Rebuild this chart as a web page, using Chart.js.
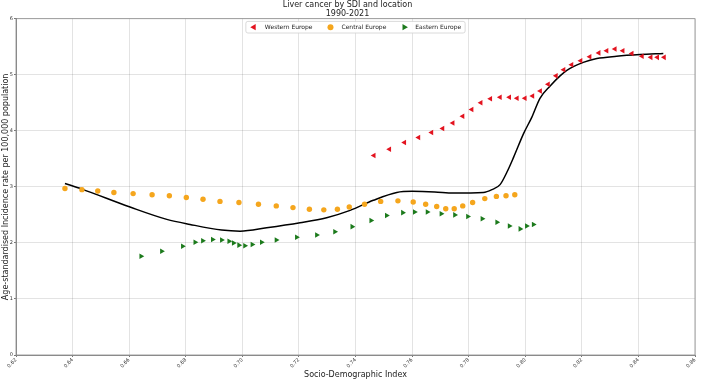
<!DOCTYPE html>
<html>
<head>
<meta charset="utf-8">
<script src="https://cdn.jsdelivr.net/npm/chart.js@4/dist/chart.umd.min.js"></script>
<style>
  html, body { margin: 0; padding: 0; background: #fff; }
  #wrap { width: 701px; height: 381px; position: relative; }
</style>
</head>
<body>
<div id="wrap"><canvas id="sdiChart"></canvas></div>
<script>
// Socio-Demographic Index (x) and age-standardised incidence rate (y), 1990-2021
const westernSdi = [0.7465, 0.7520, 0.7573, 0.7623, 0.7669, 0.7708, 0.7744, 0.7779, 0.7811, 0.7843, 0.7877, 0.7911, 0.7944, 0.7971, 0.7999, 0.8026,
  0.8053, 0.8081, 0.8109, 0.8136, 0.8164, 0.8196, 0.8228, 0.8260, 0.8288, 0.8317, 0.8345, 0.8377, 0.8413, 0.8444, 0.8467, 0.8491];
const westernRate = [3.56, 3.67, 3.79, 3.88, 3.97, 4.04, 4.14, 4.26, 4.38, 4.50, 4.57, 4.60, 4.60, 4.58, 4.58, 4.62,
  4.71, 4.83, 4.98, 5.09, 5.18, 5.25, 5.32, 5.39, 5.43, 5.46, 5.43, 5.38, 5.33, 5.31, 5.31, 5.31];

const centralSdi = [0.6373, 0.6433, 0.6489, 0.6546, 0.6614, 0.6681, 0.6742, 0.6802, 0.6861, 0.6921, 0.6988, 0.7057, 0.7120, 0.7179, 0.7237, 0.7288,
  0.7336, 0.7378, 0.7432, 0.7489, 0.7550, 0.7604, 0.7648, 0.7687, 0.7719, 0.7749, 0.7779, 0.7814, 0.7857, 0.7898, 0.7932, 0.7963];
const centralRate = [2.97, 2.95, 2.925, 2.90, 2.88, 2.86, 2.84, 2.81, 2.78, 2.74, 2.72, 2.69, 2.66, 2.63, 2.60, 2.59,
  2.60, 2.64, 2.69, 2.74, 2.75, 2.73, 2.69, 2.65, 2.61, 2.61, 2.66, 2.72, 2.79, 2.83, 2.84, 2.86];

const easternSdi = [0.6642, 0.6715, 0.6789, 0.6833, 0.6860, 0.6895, 0.6927, 0.6953, 0.6969, 0.6988, 0.7009, 0.7035, 0.7068, 0.7120, 0.7192, 0.7263,
  0.7327, 0.7388, 0.7455, 0.7510, 0.7567, 0.7609, 0.7654, 0.7703, 0.7751, 0.7797, 0.7848, 0.7900, 0.7944, 0.7982, 0.8005, 0.8029];
const easternRate = [1.76, 1.85, 1.94, 2.01, 2.04, 2.06, 2.05, 2.03, 2.00, 1.96, 1.95, 1.97, 2.01, 2.05, 2.10, 2.14,
  2.20, 2.29, 2.40, 2.49, 2.54, 2.55, 2.55, 2.52, 2.50, 2.47, 2.43, 2.37, 2.30, 2.25, 2.30, 2.33];

// expected values by SDI (smoothed curve)
const expectedSdi = [0.6373, 0.6433, 0.6603, 0.6733, 0.6815, 0.6927, 0.6992, 0.7086, 0.7204, 0.7298, 0.7381, 0.7463, 0.7546, 0.7600,
  0.7680, 0.7746, 0.7852, 0.7882, 0.7911, 0.7935, 0.7959, 0.7994, 0.8023, 0.8052, 0.8088, 0.8123, 0.8147, 0.8205, 0.8253, 0.8323, 0.8406, 0.8488];
const expectedRate = [3.06, 2.96, 2.64, 2.42, 2.33, 2.23, 2.21, 2.27, 2.36, 2.45, 2.58, 2.76, 2.90, 2.92,
  2.91, 2.89, 2.90, 2.95, 3.04, 3.26, 3.53, 3.95, 4.24, 4.58, 4.80, 4.98, 5.08, 5.22, 5.29, 5.33, 5.36, 5.38];

const xTicksMin = 0.62;
const xTicksMax = 0.86;
const yTicksMax = 6;

const toPoints = (xs, ys) => xs.map((x, i) => ({ x: x, y: ys[i] }));

const FONT = "'DejaVu Sans', sans-serif";

// legend sits inside the plot, on a white box, like the original
const innerLegend = {
  id: "innerLegend",
  afterDatasetsDraw(chart) {
    const ctx = chart.ctx;
    const area = chart.chartArea;
    const items = chart.data.datasets.filter((d) => d.label);
    ctx.save();
    ctx.font = "6px " + FONT;
    const widths = items.map((d) => ctx.measureText(d.label).width);
    const boxW = 8 + widths.reduce((a, w) => a + 11 + w, 0) + 18 * (items.length - 1) + 4;
    const boxH = 11.6;
    const left = (area.left + area.right) / 2 - boxW / 2;
    const top = area.top + 2.7;

    ctx.fillStyle = "rgba(255,255,255,0.9)";
    ctx.strokeStyle = "#d0d0d0";
    ctx.lineWidth = 0.8;
    ctx.beginPath();
    ctx.roundRect(left, top, boxW, boxH, 2);
    ctx.fill();
    ctx.stroke();

    let x = left + 8;
    const y = top + boxH / 2;
    items.forEach((d, i) => {
      ctx.fillStyle = d.backgroundColor;
      ctx.strokeStyle = d.backgroundColor;
      Chart.helpers.drawPoint(ctx, {
        pointStyle: d.pointStyle,
        rotation: d.rotation || 0,
        radius: d.pointStyle === "circle" ? 3 : 3.6,
        borderWidth: 0,
      }, x, y);
      ctx.fillStyle = "#222";
      ctx.textBaseline = "middle";
      ctx.textAlign = "left";
      ctx.fillText(d.label, x + 11, y + 0.5);
      x += 11 + widths[i] + 18;
    });
    ctx.restore();
  },
};

// full frame round the axes
const axesFrame = {
  id: "axesFrame",
  afterDraw(chart) {
    const { ctx, chartArea: a } = chart;
    ctx.save();
    ctx.strokeStyle = "#8a8a8a";
    ctx.lineWidth = 0.8;
    ctx.strokeRect(a.left, a.top, a.right - a.left, a.bottom - a.top);
    ctx.restore();
  },
};

const ctx = document.getElementById("sdiChart").getContext("2d");

new Chart(ctx, {
  type: "scatter",
  data: {
    datasets: [
      {
        label: "Western Europe",
        data: toPoints(westernSdi, westernRate),
        pointStyle: "triangle",
        rotation: -90,
        pointRadius: 3.2,
        backgroundColor: "#e3131f",
        borderColor: "#e3131f",
        borderWidth: 0,
      },
      {
        label: "Central Europe",
        data: toPoints(centralSdi, centralRate),
        pointStyle: "circle",
        pointRadius: 2.7,
        backgroundColor: "#f5a61d",
        borderColor: "#f5a61d",
        borderWidth: 0,
      },
      {
        label: "Eastern Europe",
        data: toPoints(easternSdi, easternRate),
        pointStyle: "triangle",
        rotation: 90,
        pointRadius: 3.2,
        backgroundColor: "#1c7a1c",
        borderColor: "#1c7a1c",
        borderWidth: 0,
      },
      {
        label: "",
        data: toPoints(expectedSdi, expectedRate),
        showLine: true,
        pointRadius: 0,
        borderColor: "#000",
        borderWidth: 1.5,
        cubicInterpolationMode: "monotone",
        fill: false,
      },
    ],
  },
  options: {
    responsive: true,
    maintainAspectRatio: false,
    animation: false,
    layout: { padding: { left: 0, right: 6, top: 0, bottom: 0 } },
    scales: {
      x: {
        type: "linear",
        min: xTicksMin,
        max: xTicksMax,
        afterFit(scale) {
          scale.height = 26;
          scale.paddingLeft = 0;
          scale.paddingRight = 0;
        },
        ticks: {
          stepSize: 0.02,
          minRotation: 45,
          maxRotation: 45,
          padding: 0,
          color: "#333",
          font: { family: FONT, size: 5 },
          callback: (v) => Number(v).toFixed(2),
        },
        grid: { color: "rgba(0,0,0,0.11)", tickLength: 2, tickColor: "#777" },
        border: { color: "#8a8a8a" },
        title: {
          display: true,
          text: "Socio-Demographic Index",
          color: "#222",
          font: { family: FONT, size: 8 },
          padding: { top: 0, bottom: 1.2 },
        },
      },
      y: {
        min: 0,
        max: yTicksMax,
        afterFit(scale) {
          scale.width = 16;
        },
        ticks: {
          stepSize: 1,
          padding: 1,
          color: "#333",
          font: { family: FONT, size: 5 },
        },
        grid: { color: "rgba(0,0,0,0.11)", tickLength: 2, tickColor: "#777" },
        border: { color: "#8a8a8a" },
        title: {
          display: true,
          text: "Age-standardised Incidence rate per 100,000 population",
          color: "#222",
          font: { family: FONT, size: 8 },
          padding: { top: 1, bottom: 0 },
        },
      },
    },
    plugins: {
      legend: { display: false },
      tooltip: { enabled: false },
      title: {
        display: true,
        text: ["Liver cancer by SDI and location", "1990-2021"],
        color: "#222",
        font: { family: FONT, size: 8, weight: "normal", lineHeight: 1.15 },
        padding: { top: 0.3, bottom: 0 },
      },
    },
  },
  plugins: [innerLegend, axesFrame],
});
</script>
</body>
</html>
